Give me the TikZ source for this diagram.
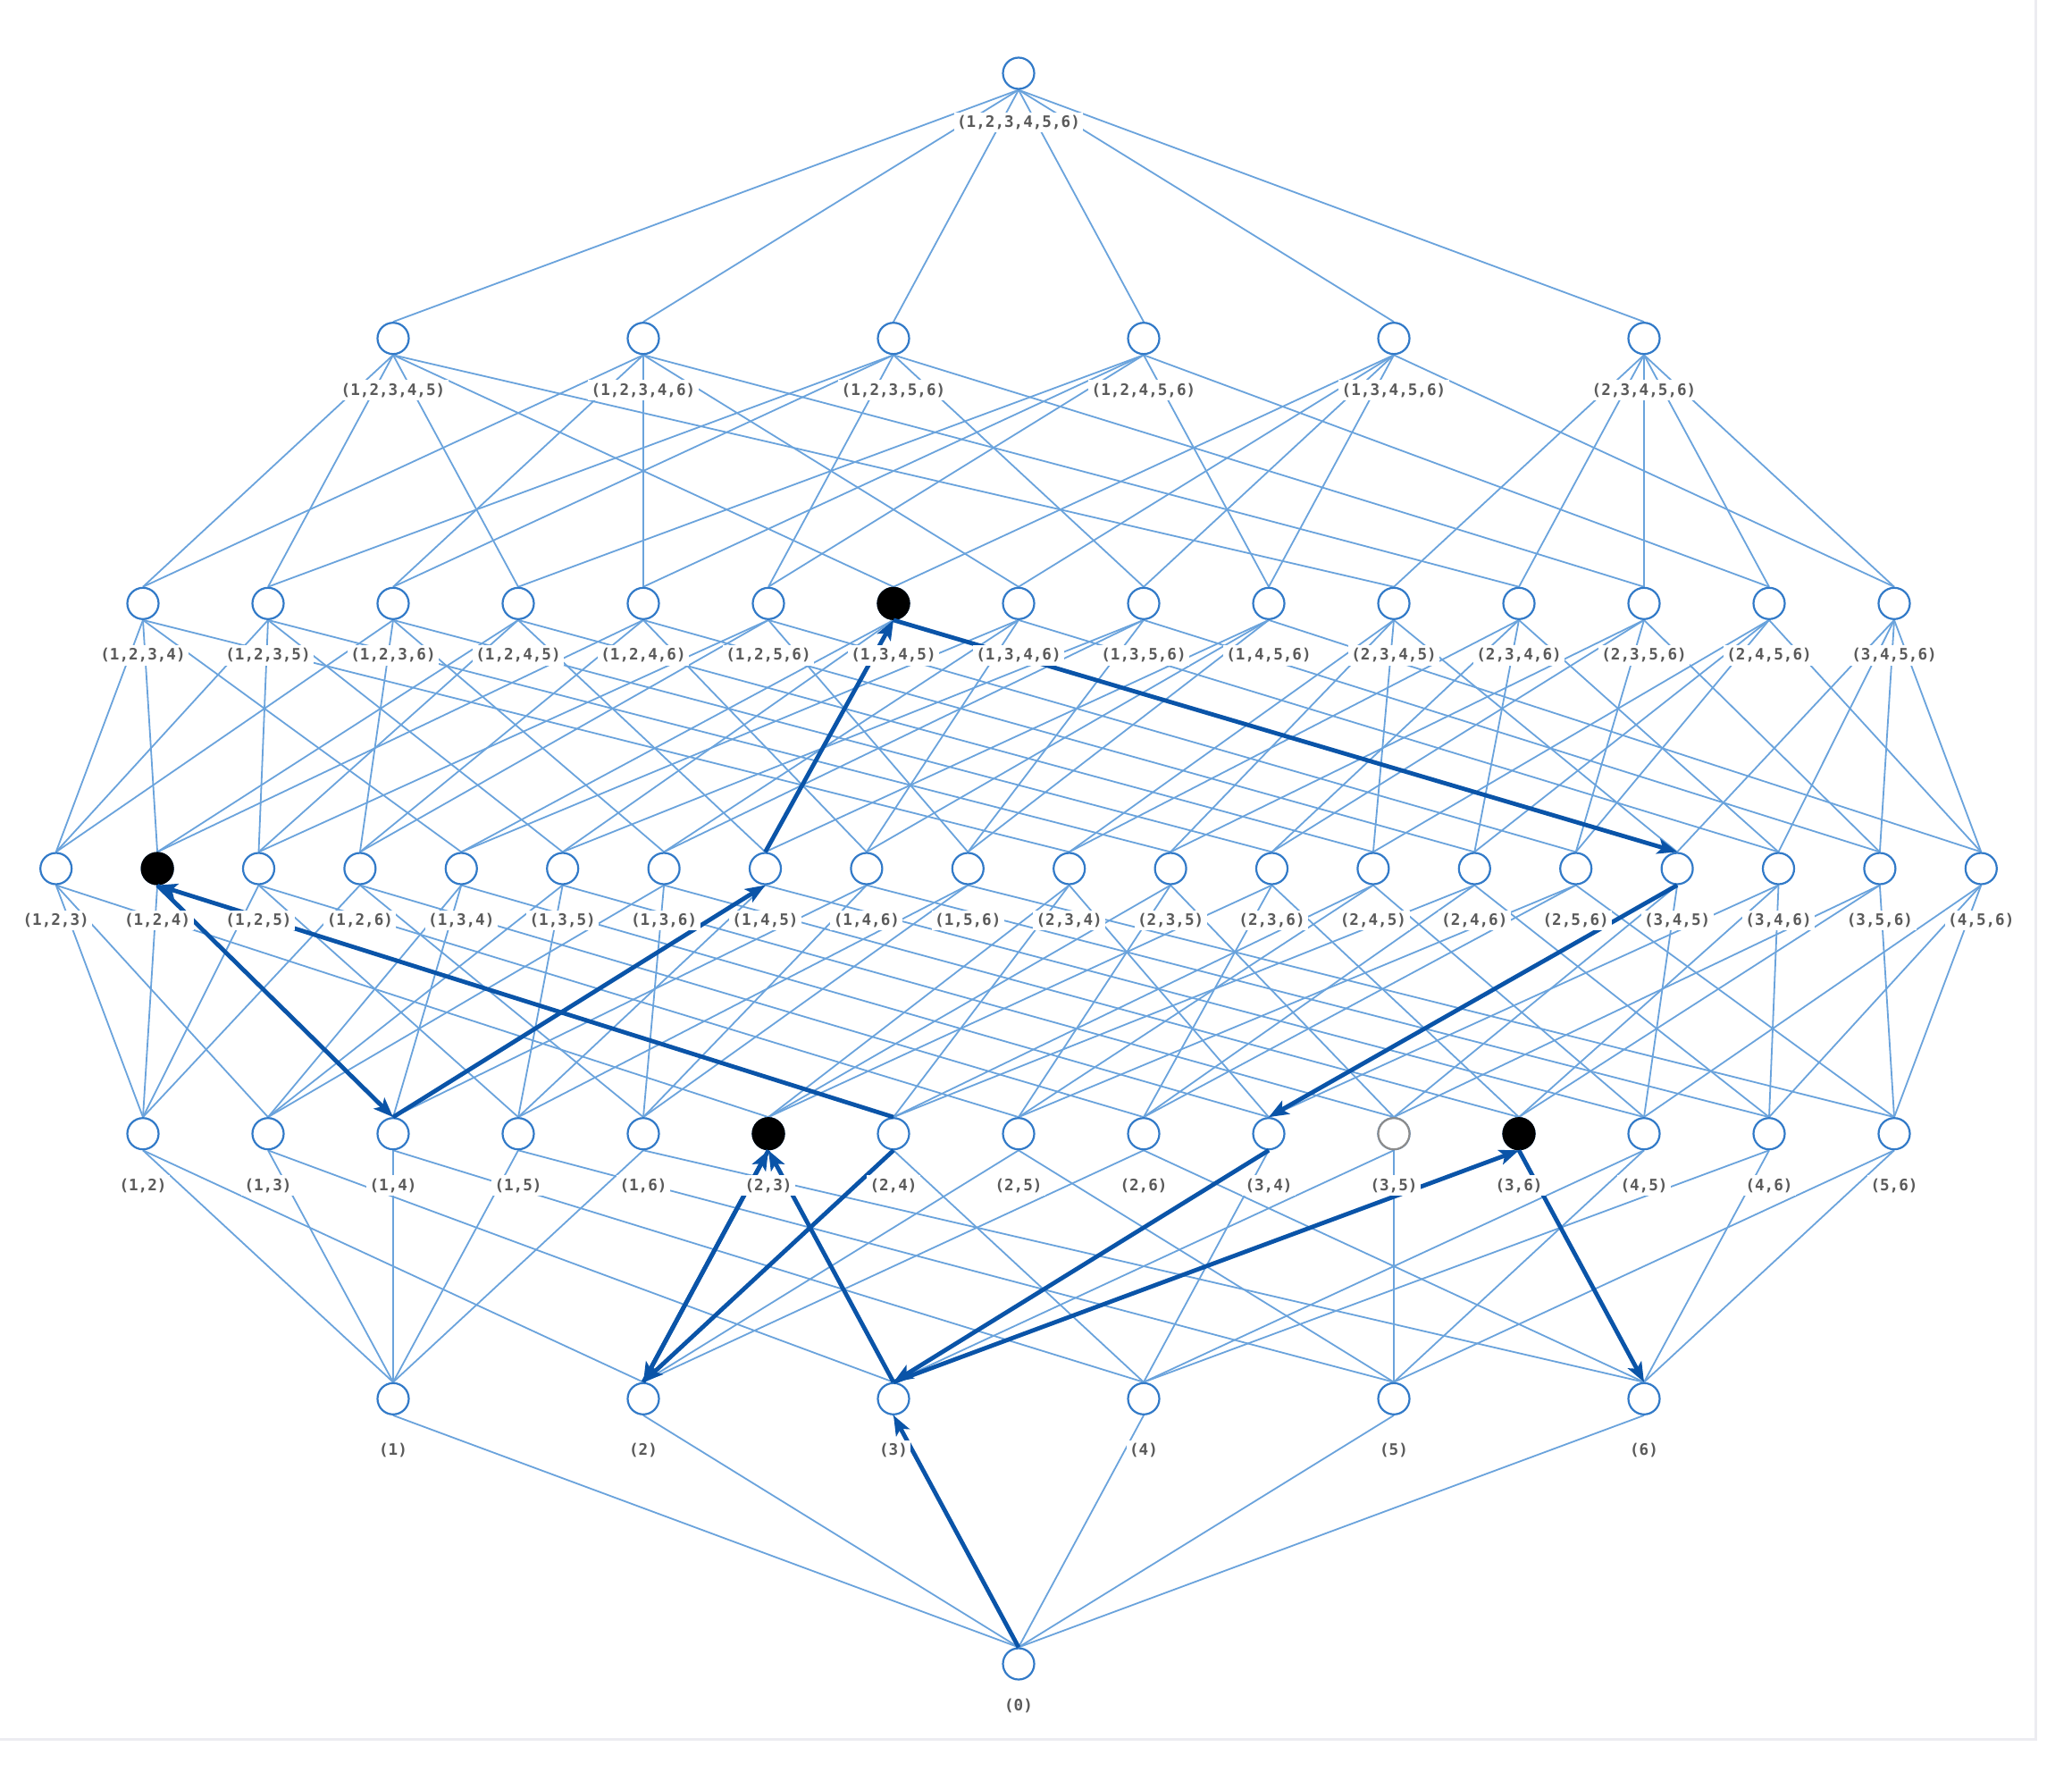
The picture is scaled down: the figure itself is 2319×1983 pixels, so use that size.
\documentclass[tikz,border=0pt]{standalone}
\usepackage{fontspec}
\newfontfamily\labfont{DejaVu Sans Mono}
\usetikzlibrary{arrows.meta}
\pgfdeclarelayer{back}
\pgfdeclarelayer{bg}
\pgfdeclarelayer{fg}
\pgfsetlayers{back,bg,main,fg}
\definecolor{edgec}{RGB}{106,163,220}
\definecolor{circc}{RGB}{50,122,200}
\definecolor{walkc}{RGB}{10,84,168}
\definecolor{labc}{RGB}{90,90,90}
\definecolor{framec}{RGB}{236,236,241}
\definecolor{grayc}{RGB}{140,140,140}
\tikzset{
 vert/.style={circle, draw=circc, line width=2.2pt, fill=white, minimum size=35pt, inner sep=0pt},
 lab/.style={fill=white, inner sep=3.5pt, text=labc, font=\labfont\bfseries\fontsize{17.6}{20}\selectfont},
 edge/.style={draw=edgec, line width=1.8pt},
 walk/.style={draw=walkc, line width=4.8pt, -{Stealth[length=22pt,width=17pt,inset=5pt]}},
}
\newcommand\placerank[5]{%
 \foreach \nm/\lb [count=\i from 0] in {#5}{%
  \node[vert] (n\nm) at ({1140+(\i-#3)*#2},#1) {};
  \begin{pgfonlayer}{fg}
   \node[lab] (l\nm) at ([yshift=-#4pt]n\nm.center) {(\lb)};
  \end{pgfonlayer}
 }}
\newcommand\kids[2]{\foreach \c in {#2}{\draw[edge] (n#1.south) -- (n\c.north);}}
\begin{document}
\begin{tikzpicture}[x=1pt,y=-1pt]
\useasboundingbox (0,0) rectangle (2319,1983);
\begin{pgfonlayer}{back}
\fill[white] (0,0) rectangle (2319,1983);
\draw[framec, line width=3pt] (0,1946) -- (2278,1946) -- (2278,0);
\end{pgfonlayer}
% nodes
\placerank{82}{0}{0}{55}{123456/{1,2,3,4,5,6}}
\placerank{378.7}{280}{2.5}{58}{12345/{1,2,3,4,5},12346/{1,2,3,4,6},12356/{1,2,3,5,6},12456/{1,2,4,5,6},13456/{1,3,4,5,6},23456/{2,3,4,5,6}}
\placerank{675.3}{140}{7}{58}{1234/{1,2,3,4},1235/{1,2,3,5},1236/{1,2,3,6},1245/{1,2,4,5},1246/{1,2,4,6},1256/{1,2,5,6},1345/{1,3,4,5},1346/{1,3,4,6},1356/{1,3,5,6},1456/{1,4,5,6},2345/{2,3,4,5},2346/{2,3,4,6},2356/{2,3,5,6},2456/{2,4,5,6},3456/{3,4,5,6}}
\placerank{972}{113.4}{9.5}{58}{123/{1,2,3},124/{1,2,4},125/{1,2,5},126/{1,2,6},134/{1,3,4},135/{1,3,5},136/{1,3,6},145/{1,4,5},146/{1,4,6},156/{1,5,6},234/{2,3,4},235/{2,3,5},236/{2,3,6},245/{2,4,5},246/{2,4,6},256/{2,5,6},345/{3,4,5},346/{3,4,6},356/{3,5,6},456/{4,5,6}}
\placerank{1268.7}{140}{7}{58}{12/{1,2},13/{1,3},14/{1,4},15/{1,5},16/{1,6},23/{2,3},24/{2,4},25/{2,5},26/{2,6},34/{3,4},35/{3,5},36/{3,6},45/{4,5},46/{4,6},56/{5,6}}
\placerank{1565.3}{280}{2.5}{58}{1/1,2/2,3/3,4/4,5/5,6/6}
\placerank{1862}{0}{0}{47}{0/0}
% edges
\begin{pgfonlayer}{bg}
\kids{123456}{12345,12346,12356,12456,13456,23456}
\kids{12345}{1234,1235,1245,1345,2345}
\kids{12346}{1234,1236,1246,1346,2346}
\kids{12356}{1235,1236,1256,1356,2356}
\kids{12456}{1245,1246,1256,1456,2456}
\kids{13456}{1345,1346,1356,1456,3456}
\kids{23456}{2345,2346,2356,2456,3456}
\kids{1234}{123,124,134,234}
\kids{1235}{123,125,135,235}
\kids{1236}{123,126,136,236}
\kids{1245}{124,125,145,245}
\kids{1246}{124,126,146,246}
\kids{1256}{125,126,156,256}
\kids{1345}{134,135,145,345}
\kids{1346}{134,136,146,346}
\kids{1356}{135,136,156,356}
\kids{1456}{145,146,156,456}
\kids{2345}{234,235,245,345}
\kids{2346}{234,236,246,346}
\kids{2356}{235,236,256,356}
\kids{2456}{245,246,256,456}
\kids{3456}{345,346,356,456}
\kids{123}{12,13,23}
\kids{124}{12,14,24}
\kids{125}{12,15,25}
\kids{126}{12,16,26}
\kids{134}{13,14,34}
\kids{135}{13,15,35}
\kids{136}{13,16,36}
\kids{145}{14,15,45}
\kids{146}{14,16,46}
\kids{156}{15,16,56}
\kids{234}{23,24,34}
\kids{235}{23,25,35}
\kids{236}{23,26,36}
\kids{245}{24,25,45}
\kids{246}{24,26,46}
\kids{256}{25,26,56}
\kids{345}{34,35,45}
\kids{346}{34,36,46}
\kids{356}{35,36,56}
\kids{456}{45,46,56}
\kids{12}{1,2}
\kids{13}{1,3}
\kids{14}{1,4}
\kids{15}{1,5}
\kids{16}{1,6}
\kids{23}{2,3}
\kids{24}{2,4}
\kids{25}{2,5}
\kids{26}{2,6}
\kids{34}{3,4}
\kids{35}{3,5}
\kids{36}{3,6}
\kids{45}{4,5}
\kids{46}{4,6}
\kids{56}{5,6}
\kids{1}{0}
\kids{2}{0}
\kids{3}{0}
\kids{4}{0}
\kids{5}{0}
\kids{6}{0}
\end{pgfonlayer}
% marked nodes
\foreach \s in {124,1345,23,36}{\fill[black] (n\s) circle[radius=18.6];}
\filldraw[fill=white, draw=grayc, line width=2.2pt] (n35) circle[radius=17.5];
% walk
\draw[walk] (n0.north) -- (n3.south);
\draw[walk] (n3.north) -- (n23.south);
\draw[walk] (n2.north) -- (n23.south);
\draw[walk] (n23.south) -- (n2.north);
\draw[walk] (n24.south) -- (n2.north);
\draw[walk] (n24.north) -- (n124.south);
\draw[walk] (n124.south) -- (n14.north);
\draw[walk] (n14.north) -- (n145.south);
\draw[walk] (n145.north) -- (n1345.south);
\draw[walk] (n1345.south) -- (n345.north);
\draw[walk] (n345.south) -- (n34.north);
\draw[walk] (n34.south) -- (n3.north);
\draw[walk] (n3.north) -- (n36.south);
\draw[walk] (n36.south) -- (n6.north);
\end{tikzpicture}
\end{document}
